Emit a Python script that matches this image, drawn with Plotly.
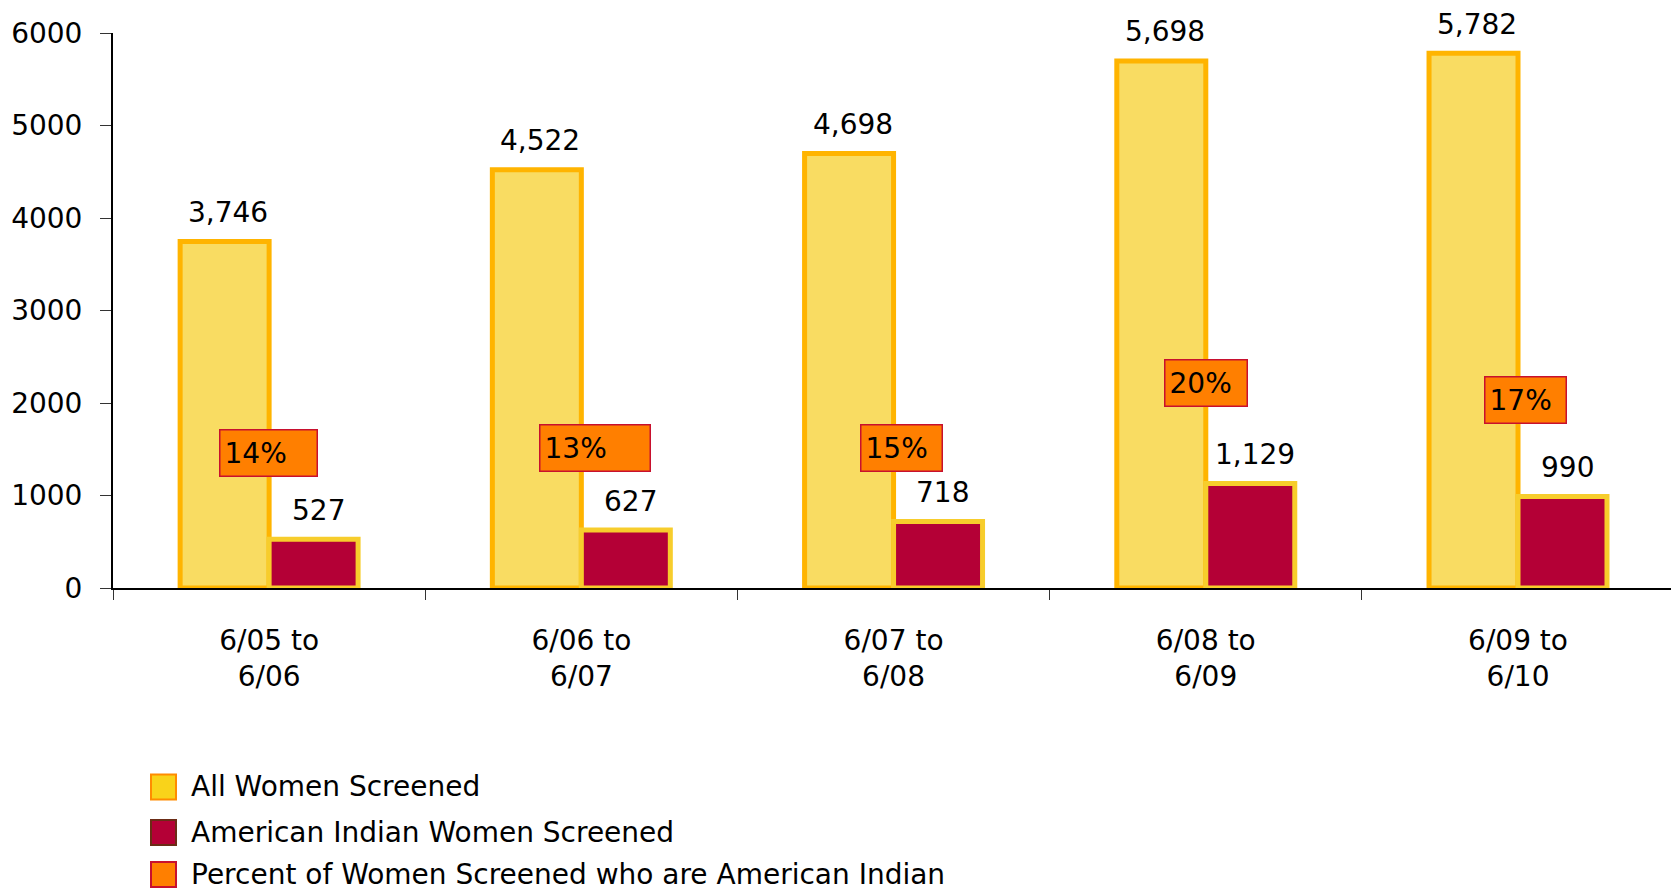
import plotly.graph_objects as go

# ---- data ----
categories = ["6/05 to<br>6/06", "6/06 to<br>6/07", "6/07 to<br>6/08", "6/08 to<br>6/09", "6/09 to<br>6/10"]
all_women = [3746, 4522, 4698, 5698, 5782]
ai_women = [527, 627, 718, 1129, 990]
pct_ai = [14, 13, 15, 20, 17]
series_names = ["All Women Screened", "American Indian Women Screened",
                "Percent of Women Screened who are American Indian"]
y_ticks = [0, 1000, 2000, 3000, 4000, 5000, 6000]

# ---- layout helpers (placement of percent boxes, as drawn in the original) ----
pct_box_y = [1460, 1515, 1515, 2215, 2030]
pct_box_dx = [-50, -42, -34, -42, -34]
pct_box_w = [98, 111, 82, 83, 82]

FONT = "'DejaVu Sans', 'Liberation Sans', sans-serif"
FS = 28
W, H = 1671, 895
ML, MR, MT, MB = 113, 0, 33, 307
PW, PH = W - ML - MR, H - MT - MB

fig = go.Figure()
fig.add_trace(go.Bar(
    x=categories, y=all_women, name=series_names[0],
    marker=dict(color="#F9DC62", line=dict(color="#FFB400", width=5)),
    showlegend=False, hoverinfo="x+y",
))
fig.add_trace(go.Bar(
    x=categories, y=ai_women, name=series_names[1],
    marker=dict(color="#B40036", line=dict(color="#F7CD2C", width=5)),
    showlegend=False, hoverinfo="x+y",
))

PAD = 4
annotations = []
for i, c in enumerate(categories):
    annotations.append(dict(x=c, y=all_women[i], xref="x", yref="y", text=f"{all_women[i]:,}",
                            showarrow=False, xshift=-41, yshift=29, yanchor="middle",
                            font=dict(family=FONT, size=FS, color="#000")))
    annotations.append(dict(x=c, y=ai_women[i], xref="x", yref="y", text=f"{ai_women[i]:,}",
                            showarrow=False, xshift=49, yshift=29, yanchor="middle",
                            font=dict(family=FONT, size=FS, color="#000")))
    annotations.append(dict(x=c, y=pct_box_y[i], xref="x", yref="y", text=f"{pct_ai[i]}%",
                            showarrow=False, xanchor="left", yanchor="middle",
                            xshift=pct_box_dx[i], width=pct_box_w[i] - 2 - 2 * PAD, height=45 - 2 * PAD,
                            align="left", valign="middle",
                            bgcolor="#FF7F00", bordercolor="#C8102E", borderwidth=1.5, borderpad=PAD,
                            font=dict(family=FONT, size=FS, color="#000")))

# ---- manual legend (large square swatches) ----
def px2paper(px, py):
    return (px - ML) / PW, (MT + PH - py) / PH

legend_items = [
    (series_names[0], "#F9D31A", "#FF8C00", 787),
    (series_names[1], "#B40036", "#6B2C16", 832.5),
    (series_names[2], "#FF7F00", "#C8102E", 874.5),
]
shapes = []
for name, fill, border, cy in legend_items:
    x0, y0 = px2paper(151, cy + 12.5)
    x1, y1 = px2paper(176, cy - 12.5)
    shapes.append(dict(type="rect", xref="paper", yref="paper", x0=x0, y0=y0, x1=x1, y1=y1,
                       fillcolor=fill, line=dict(color=border, width=2), layer="above"))
    tx, ty = px2paper(189, cy)
    annotations.append(dict(x=tx, y=ty, xref="paper", yref="paper", text=name, showarrow=False,
                            xanchor="left", yanchor="middle",
                            font=dict(family=FONT, size=FS, color="#000")))

fig.update_layout(
    width=W, height=H,
    margin=dict(l=ML, r=MR, t=MT, b=MB, pad=0),
    paper_bgcolor="white", plot_bgcolor="white",
    barmode="group", bargap=0.43, bargroupgap=0,
    font=dict(family=FONT, size=FS, color="#000"),
    annotations=annotations, shapes=shapes,
    showlegend=False,
)
fig.update_xaxes(
    type="category", range=[-0.5, 4.49],
    showline=True, linecolor="#000", linewidth=2,
    ticks="outside", tickson="boundaries", ticklen=10, tickcolor="#333", tickwidth=1,
    showgrid=False, zeroline=False,
    tickfont=dict(family=FONT, size=FS, color="#000"), ticklabelstandoff=26,
)
fig.update_yaxes(
    range=[0, 6000], tickvals=y_ticks,
    showline=True, linecolor="#000", linewidth=2,
    ticks="outside", ticklen=11, tickcolor="#333", tickwidth=1,
    showgrid=False, zeroline=False,
    tickfont=dict(family=FONT, size=FS, color="#000"), ticklabelstandoff=12,
)

fig.write_html("out.html", config={"displayModeBar": False})
